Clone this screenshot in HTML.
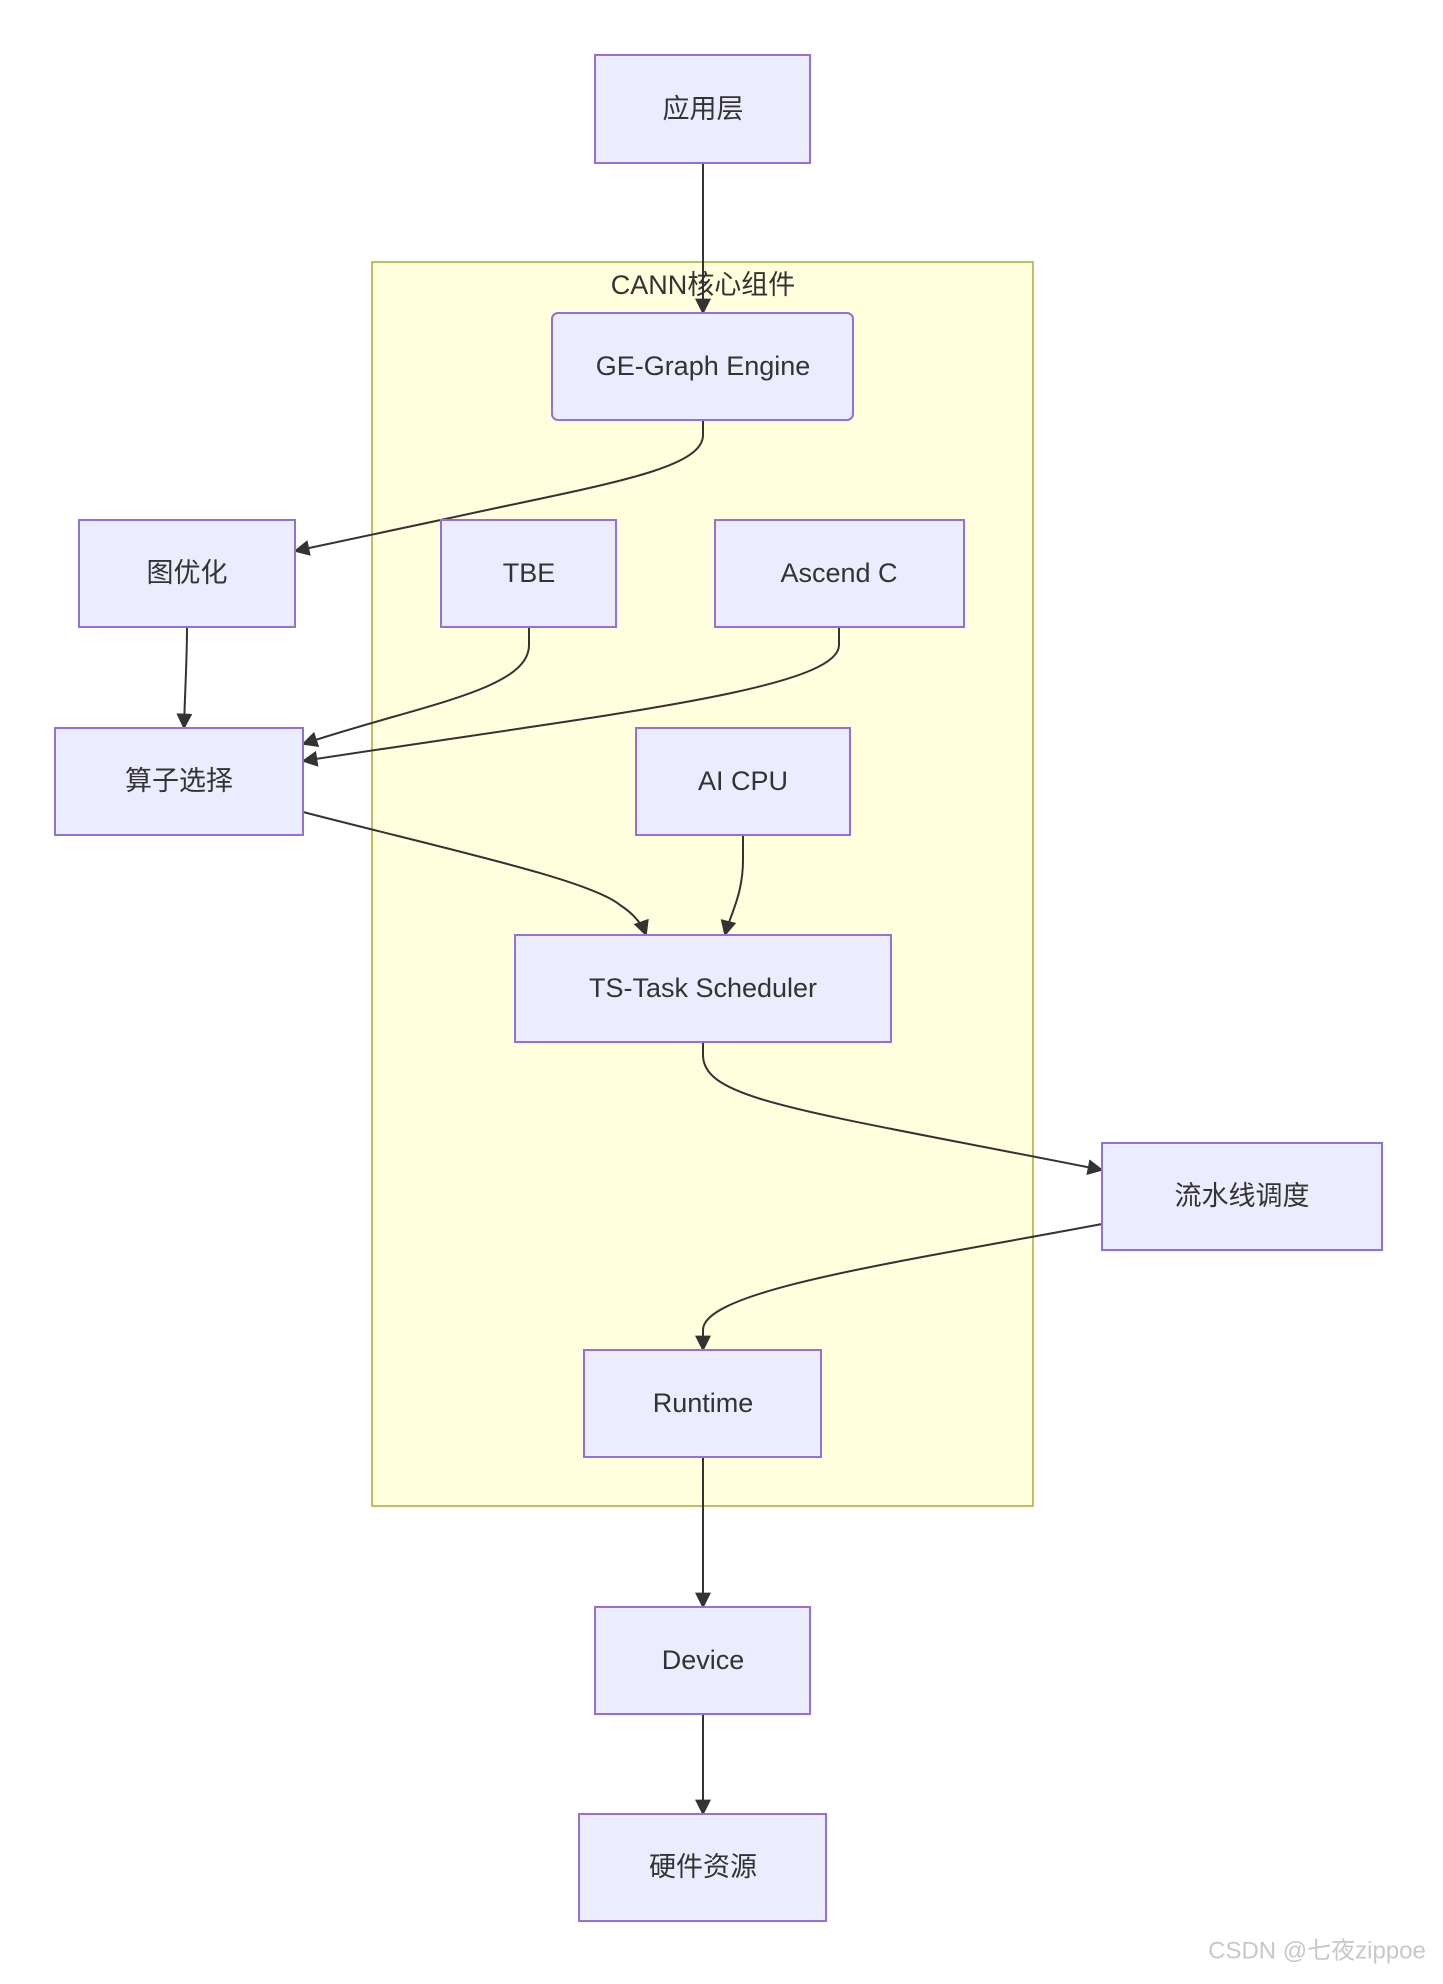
<!DOCTYPE html>
<html><head><meta charset="utf-8"><style>
html,body{margin:0;padding:0;background:#fff;}
svg{display:block;}
text{font-family:"Liberation Sans","Noto Sans CJK SC",sans-serif;fill:#333;font-size:27px;text-anchor:middle;dominant-baseline:central;}
.n{fill:#ECECFF;stroke:#9370DB;stroke-width:2;}
.e{fill:none;stroke:#333;stroke-width:2;}
</style></head><body>
<svg width="1443" height="1984" viewBox="0 0 1443 1984" xmlns="http://www.w3.org/2000/svg">
<defs><marker id="a" viewBox="0 0 10 10" refX="9" refY="5" markerWidth="9" markerHeight="9" orient="auto" markerUnits="userSpaceOnUse"><path d="M0,0 L10,5 L0,10 z" fill="#333"/></marker>
<marker id="b" viewBox="0 0 10 10" refX="9" refY="5" markerWidth="16" markerHeight="16" orient="auto" markerUnits="userSpaceOnUse"><path d="M0,0 L10,5 L0,10 z" fill="#333"/></marker></defs>
<rect x="372" y="262" width="661" height="1244" fill="#FFFFDE" stroke="#AAAA33" stroke-width="1.5"/>
<text x="703" y="285">CANN核心组件</text>

<path class="e" d="M703,163 L703,313" marker-end="url(#b)"/>
<path class="e" d="M703,420 L703,435 C703,470 600,485 450,518 L295,551" marker-end="url(#b)"/>
<path class="e" d="M187,627 C187,660 185,690 184,728" marker-end="url(#b)"/>
<path class="e" d="M529,627 L529,645 C529,690 420,705 303,744" marker-end="url(#b)"/>
<path class="e" d="M839,627 L839,645 C839,690 600,715 303,761" marker-end="url(#b)"/>
<path class="e" d="M303,812 C450,850 590,880 620,905 Q640,918 646,935" marker-end="url(#b)"/>
<path class="e" d="M743,835 L743,860 C743,895 730,915 725,935" marker-end="url(#b)"/>
<path class="e" d="M703,1042 L703,1055 C703,1100 800,1110 1102,1170" marker-end="url(#b)"/>
<path class="e" d="M1102,1224 C900,1262 703,1290 703,1330 L703,1350" marker-end="url(#b)"/>
<path class="e" d="M703,1457 L703,1607" marker-end="url(#b)"/>
<path class="e" d="M703,1714 L703,1814" marker-end="url(#b)"/>

<rect class="n" x="595" y="55" width="215" height="108"/><text x="703" y="109">应用层</text>
<rect class="n" x="552" y="313" width="301" height="107" rx="6"/><text x="703" y="366">GE-Graph Engine</text>
<rect class="n" x="79" y="520" width="216" height="107"/><text x="187" y="573">图优化</text>
<rect class="n" x="441" y="520" width="175" height="107"/><text x="529" y="573">TBE</text>
<rect class="n" x="715" y="520" width="249" height="107"/><text x="839" y="573">Ascend C</text>
<rect class="n" x="55" y="728" width="248" height="107"/><text x="179" y="781">算子选择</text>
<rect class="n" x="636" y="728" width="214" height="107"/><text x="743" y="781">AI CPU</text>
<rect class="n" x="515" y="935" width="376" height="107"/><text x="703" y="988">TS-Task Scheduler</text>
<rect class="n" x="1102" y="1143" width="280" height="107"/><text x="1242" y="1196">流水线调度</text>
<rect class="n" x="584" y="1350" width="237" height="107"/><text x="703" y="1403">Runtime</text>
<rect class="n" x="595" y="1607" width="215" height="107"/><text x="703" y="1660">Device</text>
<rect class="n" x="579" y="1814" width="247" height="107"/><text x="703" y="1867">硬件资源</text>
<text x="1317" y="1951" style="font-size:24px;fill:#c8c8c8">CSDN @七夜zippoe</text>
</svg>
</body></html>
